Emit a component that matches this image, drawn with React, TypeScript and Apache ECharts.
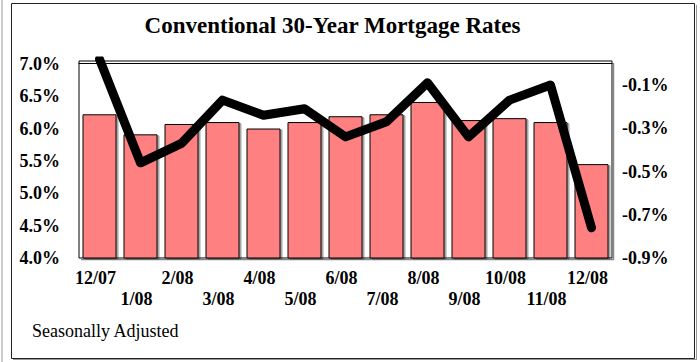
import React, { useEffect, useRef } from "react";
import * as echarts from "echarts";

const categories = ["12/07", "1/08", "2/08", "3/08", "4/08", "5/08", "6/08", "7/08", "8/08", "9/08", "10/08", "11/08", "12/08"];
const rateValues = [6.22, 5.91, 6.07, 6.1, 6.0, 6.1, 6.19, 6.22, 6.41, 6.13, 6.16, 6.1, 5.45];
const changeValues = [0.02, -0.46, -0.37, -0.17, -0.24, -0.21, -0.34, -0.27, -0.09, -0.34, -0.17, -0.1, -0.76];
const leftTicks = [4.0, 4.5, 5.0, 5.5, 6.0, 6.5, 7.0];
const rightTicks = [-0.9, -0.7, -0.5, -0.3, -0.1];
const titleText = "Conventional 30-Year Mortgage Rates";
const noteText = "Seasonally Adjusted";

const SERIF = '"Liberation Serif", "Times New Roman", serif';

export default function App() {
  const ref = useRef<HTMLDivElement>(null);
  useEffect(() => {
    if (!ref.current) return;
    const chart = echarts.init(ref.current, undefined, { renderer: "svg" });
    const gridLeft = 79;
    const gridTop = 61;
    const gridRight = 612;
    const gridBottom = 258;
    chart.setOption({
      animation: false,
      backgroundColor: "#fff",
      grid: {
        left: gridLeft,
        top: gridTop,
        width: gridRight - gridLeft,
        height: gridBottom - gridTop,
        show: true,
        borderColor: "#000",
        borderWidth: 1,
        backgroundColor: "#fff",
      },
      xAxis: {
        type: "category",
        data: categories,
        axisLine: { show: true, lineStyle: { color: "#000", width: 1 } },
        axisTick: { show: false },
        axisLabel: {
          interval: 0,
          margin: 9,
          color: "#000",
          fontFamily: SERIF,
          fontWeight: "bold",
          fontSize: 18,
          lineHeight: 21,
          padding: [0, 8, 0, 0],
          formatter: (v: string, i: number) => (i % 2 ? "\n" + v : v),
        },
      },
      yAxis: [
        {
          type: "value",
          min: 4,
          max: 7.043,
          axisLine: { show: false },
          axisTick: { show: false },
          splitLine: { show: false },
          axisLabel: {
            customValues: leftTicks,
            margin: 19,
            color: "#000",
            fontFamily: SERIF,
            fontWeight: "bold",
            fontSize: 18,
            formatter: (v: number) => v.toFixed(1) + "%",
          },
        },
        {
          type: "value",
          min: -0.9,
          max: 0.011,
          position: "right",
          axisLine: { show: false },
          axisTick: { show: false },
          splitLine: { show: false },
          axisLabel: {
            customValues: rightTicks,
            margin: 10,
            color: "#000",
            fontFamily: SERIF,
            fontWeight: "bold",
            fontSize: 18,
            formatter: (v: number) => v.toFixed(1) + "%",
          },
        },
      ],
      series: [
        {
          type: "bar",
          data: rateValues,
          yAxisIndex: 0,
          barWidth: 34,
          itemStyle: {
            color: "#FF8080",
            borderColor: "#000",
            borderWidth: 1,
            shadowColor: "rgba(0,0,0,0.35)",
            shadowOffsetX: 2,
            shadowOffsetY: 1,
            shadowBlur: 0,
          },
          z: 2,
        },
        {
          type: "line",
          data: changeValues,
          yAxisIndex: 1,
          symbol: "none",
          clip: true,
          lineStyle: { color: "#000", width: 9, cap: "round", join: "round" },
          z: 3,
        },
      ],
      graphic: [
        { type: "line", shape: { x1: 2, y1: 0, x2: 2, y2: 362 }, style: { stroke: "#999", lineWidth: 1 } },
        { type: "rect", shape: { x: 11.5, y: 3.5, width: 683, height: 355 }, style: { fill: "none", stroke: "#222", lineWidth: 1 } },
        { type: "line", shape: { x1: 696.5, y1: 5, x2: 696.5, y2: 360 }, style: { stroke: "#999", lineWidth: 1 } },
        { type: "line", shape: { x1: 13, y1: 359.5, x2: 697, y2: 359.5 }, style: { stroke: "#999", lineWidth: 1 } },
        { type: "line", shape: { x1: gridRight + 1.5, y1: gridTop + 2, x2: gridRight + 1.5, y2: gridBottom + 2 }, style: { stroke: "#888", lineWidth: 1.5 } },
        { type: "line", shape: { x1: gridLeft + 2, y1: gridBottom + 1.5, x2: gridRight + 2, y2: gridBottom + 1.5 }, style: { stroke: "#888", lineWidth: 1.5 } },
        {
          type: "text",
          x: 332.5,
          y: 25,
          style: { text: titleText, fill: "#000", font: `bold 23px ${SERIF}`, textAlign: "center", textVerticalAlign: "middle" },
        },
        {
          type: "text",
          x: 32,
          y: 331,
          style: { text: noteText, fill: "#000", font: `18px ${SERIF}`, textAlign: "left", textVerticalAlign: "middle" },
        },
      ],
    });
    return () => chart.dispose();
  }, []);
  return <div ref={ref} style={{ position: "fixed", left: 0, top: 0, width: 700, height: 362 }} />;
}
